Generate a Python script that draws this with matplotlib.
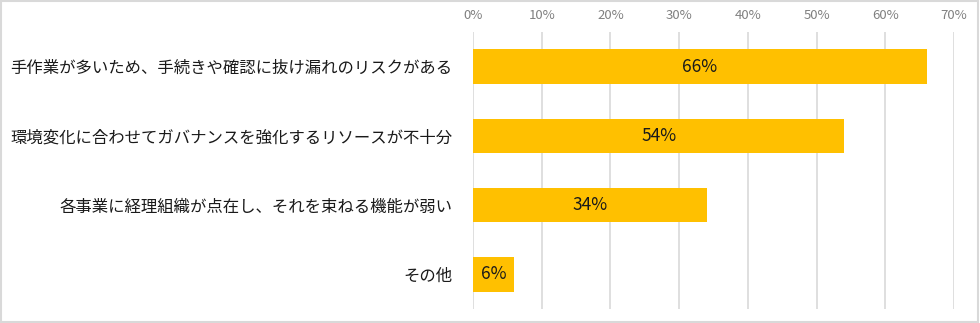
import matplotlib
matplotlib.use("Agg")
import matplotlib.pyplot as plt
from matplotlib.patches import Rectangle

plt.rcParams["font.family"] = ["Noto Sans CJK JP", "DejaVu Sans"]

# 課題項目と回答割合（%）
categories = [
    "手作業が多いため、手続きや確認に抜け漏れのリスクがある",
    "環境変化に合わせてガバナンスを強化するリソースが不十分",
    "各事業に経理組織が点在し、それを束ねる機能が弱い",
    "その他",
]
values = [66, 54, 34, 6]
ticks = [0, 10, 20, 30, 40, 50, 60, 70]
tick_labels = [f"{t}%" for t in ticks]

fig = plt.figure(figsize=(9.8, 3.23), dpi=100)
ax = fig.add_axes([0.4827, 0.0433, 0.4908, 0.8577])

pos = list(range(len(categories)))
ax.barh(pos, values, height=0.5, color="#FFC000", zorder=3)
for y, v in zip(pos, values):
    ax.text(v / 2, y, f"{v}%", ha="center", va="center",
            fontsize=12.5, color="#1a1a1a", zorder=4)

ax.set_xlim(0, 70)
ax.set_ylim(len(categories) - 0.5, -0.5)
ax.set_xticks(ticks)
ax.set_xticklabels(tick_labels)
ax.xaxis.tick_top()
ax.set_yticks(pos)
ax.set_yticklabels(categories, fontsize=11.8, color="#1a1a1a")
ax.tick_params(axis="x", length=0, pad=7, labelsize=9.5, labelcolor="#808080")
ax.tick_params(axis="y", length=0, pad=15)
ax.grid(axis="x", color="#D9D9D9", linewidth=1.2, zorder=0)
for s in ax.spines.values():
    s.set_visible(False)

# 外枠
fig.patches.append(Rectangle((0.001, 0.002), 0.997, 0.995, transform=fig.transFigure,
                             fill=False, edgecolor="#D9D9D9", linewidth=1.5))

fig.savefig("out.png", dpi=100)
